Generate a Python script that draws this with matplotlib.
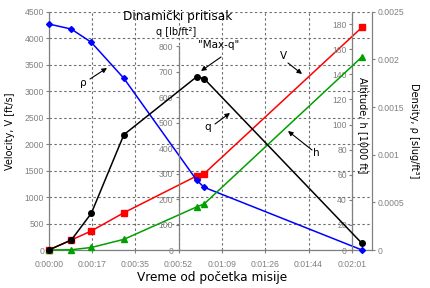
import matplotlib
matplotlib.use('Agg')
import matplotlib.pyplot as plt

# ---- data ----
time_s = [0, 9, 17, 30, 59, 62, 125]
velocity = [0, 189, 359, 704, 1397, 1440, 4205]          # ft/s
dyn_pressure = [0, 39, 144, 453, 680, 673, 26]            # lb/ft^2
altitude = [0, 0.2, 2.0, 8.5, 34.3, 36.7, 154]            # 1000 ft
density = [0.002371, 0.002318, 0.002179, 0.001801, 0.000734, 0.000658, 0.0]  # slug/ft^3

x_ticks_s = [0, 17.28, 34.56, 51.84, 69.12, 86.4, 103.68, 120.96]
x_tick_labels = ['0:00:00', '0:00:17', '0:00:35', '0:00:52',
                 '0:01:09', '0:01:26', '0:01:44', '0:02:01']
v_ticks = [0, 500, 1000, 1500, 2000, 2500, 3000, 3500, 4000, 4500]
q_ticks = [0, 100, 200, 300, 400, 500, 600, 700, 800]
h_ticks = [0, 20, 40, 60, 80, 100, 120, 140, 160, 180]
rho_ticks = [0, 0.0005, 0.001, 0.0015, 0.002, 0.0025]
rho_tick_labels = ['0', '0.0005', '0.001', '0.0015', '0.002', '0.0025']

plt.rcParams['font.family'] = ['Liberation Sans', 'DejaVu Sans']

W, H = 430, 288
fig = plt.figure(figsize=(W / 100, H / 100), dpi=100)


def px(x, y):
    return (x / W, 1 - y / H)


GRAY = '#808080'
TICKFS = 6.2
LBLFS = 7
LBLFAM = ['DejaVu Sans']

ax = fig.add_axes([48.7 / W, 38 / H, 323.3 / W, 238.3 / H])
ax.set_xlim(0, 129.0)
ax.set_ylim(0, 4500)
ax.set_xticks(x_ticks_s, x_tick_labels)
ax.set_yticks(v_ticks, [str(v) for v in v_ticks])
ax.grid(True, color='#707070', linestyle=(0, (2.2, 2.2)), linewidth=0.8)
for s in ['top', 'right']:
    ax.spines[s].set_visible(False)
for s in ['left', 'bottom']:
    ax.spines[s].set_color(GRAY)
    ax.spines[s].set_linewidth(0.9)
ax.tick_params(axis='y', labelsize=TICKFS, labelcolor=GRAY, color=GRAY,
               length=2.5, width=0.8, pad=0.8)
ax.tick_params(axis='x', labelsize=TICKFS, labelcolor=GRAY, color=GRAY,
               length=2.5, width=0.8, pad=4.5)

# density axis (right)
ax_r = ax.twinx()
ax_r.set_ylim(0, 0.0025)
ax_r.set_yticks(rho_ticks, rho_tick_labels)
for s in ['top', 'bottom', 'left']:
    ax_r.spines[s].set_visible(False)
ax_r.spines['right'].set_color(GRAY)
ax_r.spines['right'].set_linewidth(0.9)
ax_r.tick_params(axis='y', labelsize=TICKFS, labelcolor=GRAY, color=GRAY,
                 length=2.5, width=0.8, pad=1.2)

# altitude axis (at 0:02:01, labels to the left)
ax_h = ax.twinx()
ax_h.set_ylim(0, 190)
ax_h.yaxis.set_ticks_position('left')
ax_h.yaxis.set_label_position('left')
ax_h.set_yticks(h_ticks, [str(v) for v in h_ticks])
for s in ['top', 'bottom', 'right']:
    ax_h.spines[s].set_visible(False)
ax_h.spines['left'].set_visible(True)
ax_h.spines['left'].set_position(('data', x_ticks_s[-1]))
ax_h.spines['left'].set_color(GRAY)
ax_h.spines['left'].set_linewidth(0.9)
ax_h.tick_params(axis='y', labelsize=TICKFS, labelcolor=GRAY, color=GRAY,
                 length=2.5, width=0.8, pad=1.0)

# dynamic pressure axis (at 0:00:52)
ax_q = ax.twinx()
ax_q.set_ylim(0, 936)
ax_q.yaxis.set_ticks_position('left')
ax_q.yaxis.set_label_position('left')
ax_q.set_yticks(q_ticks, [str(v) for v in q_ticks])
for s in ['top', 'bottom', 'right']:
    ax_q.spines[s].set_visible(False)
ax_q.spines['left'].set_visible(True)
ax_q.spines['left'].set_position(('data', x_ticks_s[3]))
ax_q.spines['left'].set_bounds(0, q_ticks[-1])
ax_q.spines['left'].set_color(GRAY)
ax_q.spines['left'].set_linewidth(0.9)
ax_q.tick_params(axis='y', labelsize=TICKFS, labelcolor=GRAY, color=GRAY,
                 length=2.5, width=0.8, pad=1.5)

# series
ax.plot(time_s, velocity, color='#ff0000', marker='s', ms=3.8, lw=1.1,
        clip_on=False, zorder=3)
ax_r.plot(time_s, density, color='#0000ff', marker='D', ms=3.0, lw=1.1,
          clip_on=False, zorder=3)
ax_h.plot(time_s, altitude, color='#00a000', marker='^', ms=4.5, lw=1.1,
          clip_on=False, zorder=3)
ax_q.plot(time_s, dyn_pressure, color='black', marker='o', ms=4.0, lw=1.1,
          clip_on=False, zorder=3)

# texts
fig.text(*px(177.5, 20), 'Dinamički pritisak', ha='center', va='baseline',
         fontsize=8.7, family=LBLFAM)
fig.text(*px(212.5, 277), 'Vreme od početka misije', ha='center', va='center',
         fontsize=8.7, family=LBLFAM)
fig.text(*px(10, 131), 'Velocity, V [ft/s]', ha='center', va='center',
         rotation=90, fontsize=LBLFS, family=LBLFAM)
fig.text(*px(362.5, 125.5), 'Altitude, h [1000 ft]', ha='center', va='center',
         rotation=270, fontsize=LBLFS, family=LBLFAM)
fig.text(*px(414, 131), 'Density, ρ [slug/ft³]', ha='center', va='center',
         rotation=270, fontsize=LBLFS, family=LBLFAM)
fig.text(*px(176, 32), 'q [lb/ft²]', ha='center', va='center',
         fontsize=LBLFS, family=LBLFAM)

arrow = dict(arrowstyle='-|>', color='black', lw=0.8, mutation_scale=7,
             shrinkA=0, shrinkB=0)
notes = [
    ('ρ', (83, 83), (90, 79), (107, 68)),
    ('"Max-q"', (219, 45), (221, 57), (201, 71)),
    ('q', (208, 127), (215, 124), (230, 113)),
    ('V', (283, 56), (288, 63), (302, 74)),
    ('h', (316, 153), (312, 150), (288, 131)),
]
for txt, tpos, start, tip in notes:
    fig.text(*px(*tpos), txt, ha='center', va='center', fontsize=7.5,
             family=LBLFAM)
    fig.add_artist(matplotlib.patches.FancyArrowPatch(
        px(*start), px(*tip), transform=fig.transFigure, **arrow))

fig.savefig('out.png', dpi=100)
